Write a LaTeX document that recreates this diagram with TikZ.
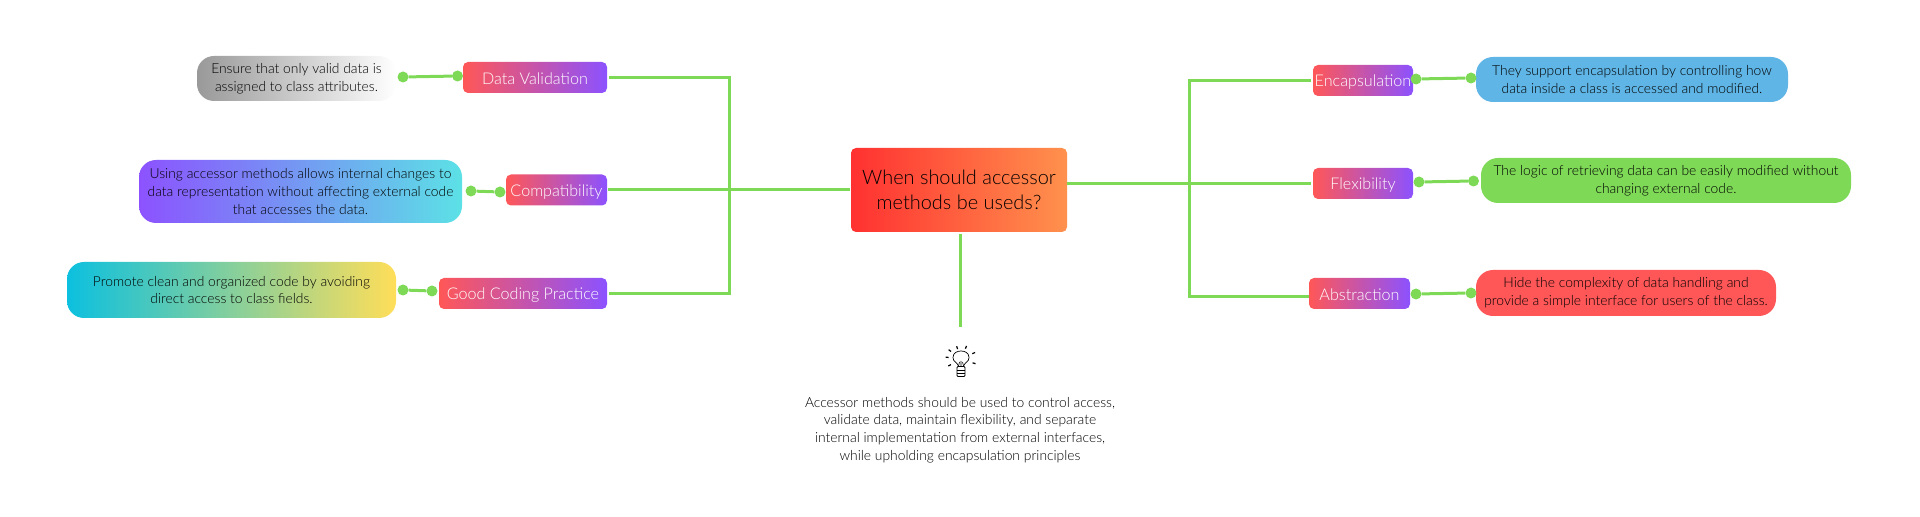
\documentclass[tikz,border=0pt]{standalone}
\usepackage{fontspec}
\setmainfont{Lato Light}
\usepackage{xcolor}
\definecolor{linkgreen}{HTML}{7ED957}
\definecolor{leafblue}{HTML}{5FB5E5}
\definecolor{leafred}{HTML}{FF5757}
\definecolor{topicpurple}{HTML}{8C52FF}
\definecolor{leafcyan}{HTML}{5CE1E6}
\definecolor{leafteal}{HTML}{0CC0DF}
\definecolor{leafyellow}{HTML}{FFDE59}
\definecolor{mainred}{HTML}{FF3131}
\definecolor{mainorange}{HTML}{FF914D}
\begin{document}
\begin{tikzpicture}[
	link/.style={draw=linkgreen,line width=3bp},
	dot/.style={circle,fill=linkgreen,inner sep=0pt,minimum size=11bp},
	topic/.style={rounded corners=5bp,left color=leafred,right color=topicpurple,text=white,
		minimum height=31bp,inner sep=0pt,align=center,font=\fontsize{16.2}{19}\selectfont,
		execute at begin node={\rule{0pt}{15bp}}},
	leaf/.style={rounded corners=17bp,inner sep=0pt,align=center,text=black,
		font=\fontsize{13.9}{17.8}\selectfont,
		execute at begin node={\rule{0pt}{15bp}}},
	bulb/.pic={
		\draw [line width=.7bp] (-2.5bp,-7bp) .. controls (-4bp,-3bp) and (-8bp,-3bp) .. (-8bp,1.5bp)
			.. controls (-8bp,6bp) and (-4bp,8bp) .. (0bp,8bp)
			.. controls (4bp,8bp) and (8bp,6bp) .. (8bp,1.5bp)
			.. controls (8bp,-3bp) and (4bp,-3bp) .. (2.5bp,-7bp);
		\draw [line width=.6bp] (-2.5bp,-7bp) -- (-1.5bp,-3bp) (0bp,-7bp) -- (0bp,-2bp) (2.5bp,-7bp) -- (1.5bp,-3bp);
		\draw [line width=.8bp,rounded corners=1bp] (-4bp,-7.5bp) rectangle (4bp,-17.5bp);
		\draw [line width=.8bp] (-4bp,-11bp) -- (4bp,-11bp) (-4bp,-14bp) -- (4bp,-14bp);
		\foreach \ang/\rad in {109/12,67/12.7,25/14,-18/13.7,143/14,173/14,209/13}
			\draw [line width=1.2bp] (\ang:\rad bp-1.5bp) -- (\ang:\rad bp+1.5bp);
	}]
	\useasboundingbox (0bp,0bp) rectangle (1920bp,517bp);

	% named ends of the green lines
	\coordinate (busL) at (729bp,327bp);
	\coordinate (busR) at (1189bp,333.5bp);
	\coordinate (tip)  at (960.4bp,190bp);
	\coordinate (abstrin) at (1309bp,220bp);

	\node (main) at (959bp,327bp) [rounded corners=5bp,left color=mainred,right color=mainorange,
		minimum width=216bp,minimum height=84bp,inner sep=0pt,align=center,text=black,
		font=\fontsize{20}{25}\selectfont,execute at begin node={\rule{0pt}{21bp}}] {When should accessor\\methods be useds?};

	\node (validation) at (535bp,439.5bp)  [topic,minimum width=144bp] {Data Validation};
	\node (compat)     at (556.5bp,327bp)  [topic,minimum width=101bp] {Compatibility};
	\node (coding)     at (523bp,223.5bp)  [topic,minimum width=168bp] {Good Coding Practice};
	\node (encaps)     at (1363bp,436.5bp) [topic,minimum width=100bp] {Encapsulation};
	\node (flex)       at (1363bp,333.5bp) [topic,minimum width=100bp] {Flexibility};
	\node (abstr)      at (1359.5bp,223.5bp) [topic,minimum width=101bp] {Abstraction};

	\node (lvalid)  at (296.5bp,438.5bp) [leaf,left color=black!40,right color=white,minimum width=199bp,minimum height=45bp]
		{Ensure that only valid data is\\assigned to class attributes.};
	\node (lcompat) at (300.5bp,325.5bp) [leaf,left color=topicpurple,right color=leafcyan,minimum width=323bp,minimum height=63bp]
		{Using accessor methods allows internal changes to\\data representation without affecting external code\\that accesses the data.};
	\node (lcoding) at (231.5bp,227bp)   [leaf,left color=leafteal,right color=leafyellow,minimum width=329bp,minimum height=56bp]
		{Promote clean and organized code by avoiding\\direct access to class fields.};
	\node (lencaps) at (1632bp,437.5bp)  [leaf,fill=leafblue,minimum width=312bp,minimum height=45bp]
		{They support encapsulation by controlling how\\data inside a class is accessed and modified.};
	\node (lflex)   at (1666bp,336.5bp)  [leaf,fill=linkgreen,minimum width=370bp,minimum height=45bp]
		{The logic of retrieving data can be easily modified without\\changing external code.};
	\node (labstr)  at (1626bp,224bp)    [leaf,fill=leafred,minimum width=300bp,minimum height=46bp]
		{Hide the complexity of data handling and\\provide a simple interface for users of the class.};

	\node (note) at (960bp,87bp) [leaf]
		{Accessor methods should be used to control access,\\validate data, maintain flexibility, and separate\\internal implementation from external interfaces,\\while upholding encapsulation principles};
	\pic at (961bp,158bp) {bulb};

	\node (a1) at (403bp,440bp)    [dot] {};
	\node (a2) at (457.5bp,441bp)  [dot] {};
	\node (b1) at (471bp,326bp)    [dot] {};
	\node (b2) at (500bp,325bp)    [dot] {};
	\node (c1) at (403bp,227bp)    [dot] {};
	\node (c2) at (432bp,226bp)    [dot] {};
	\node (d1) at (1416bp,438bp)   [dot] {};
	\node (d2) at (1471bp,439bp)   [dot] {};
	\node (e1) at (1419bp,335bp)   [dot] {};
	\node (e2) at (1473.5bp,336bp) [dot] {};
	\node (f1) at (1416bp,223bp)   [dot] {};
	\node (f2) at (1471bp,224bp)   [dot] {};

	\draw [link] (a1) -- (a2);
	\draw [link] (b1) -- (b2);
	\draw [link] (c1) -- (c2);
	\draw [link] (d1) -- (d2);
	\draw [link] (e1) -- (e2);
	\draw [link] (f1) -- (f2);

	\draw [link,shorten <=2bp] (validation.east) -| (busL);
	\draw [link,shorten <=2bp] (coding.east) -| (busL);
	\draw [link,shorten >=1bp,shorten <=1bp] (main.west) -- (compat.east);
	\draw [link,shorten >=2bp] (main.east |- flex.west) -- (flex.west);
	\draw [link,shorten >=2bp] (busR) |- (encaps.west);
	\draw [link] (busR) |- (abstrin);
	\draw [link,shorten <=2bp] (tip |- main.south) -- (tip);
\end{tikzpicture}
\end{document}
